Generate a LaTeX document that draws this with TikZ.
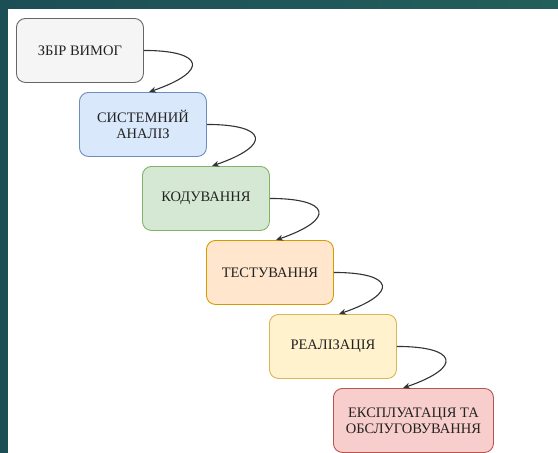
\documentclass[tikz,border=0pt]{standalone}
\usepackage{fontspec}
\setmainfont{Liberation Serif}
\usetikzlibrary{arrows.meta}

\definecolor{frameteal}{HTML}{1C4E56}
\definecolor{frametealR}{HTML}{235F5B}
\definecolor{txt}{HTML}{222222}

\begin{document}
\begin{tikzpicture}[x=1pt,y=-1pt,
  stage/.style={draw, line width=0.9pt, rounded corners=9pt, anchor=north west,
    minimum width=127pt, minimum height=64pt, inner sep=0pt,
    align=center, font=\fontsize{14.5}{16}\selectfont, text=txt},
  flow/.style={draw=black!80, line width=1.1pt, -{Stealth[length=7pt,width=6pt]}},
]
  % frame and page
  \useasboundingbox (0,0) rectangle (558,453);
  \shade[left color=frameteal, right color=frametealR] (0,0) rectangle (558,453);
  \fill[white] (8,9) rectangle (558,453);

  % stages
  \node[stage, fill={rgb,255:red,245;green,245;blue,245}, draw={rgb,255:red,102;green,102;blue,102}]
    (s1) at (16,18) {ЗБІР ВИМОГ};
  \node[stage, fill={rgb,255:red,218;green,232;blue,252}, draw={rgb,255:red,108;green,142;blue,191}]
    (s2) at (79,92) {СИСТЕМНИЙ\\АНАЛІЗ};
  \node[stage, fill={rgb,255:red,213;green,232;blue,212}, draw={rgb,255:red,130;green,179;blue,102}]
    (s3) at (142,166) {КОДУВАННЯ};
  \node[stage, fill={rgb,255:red,255;green,230;blue,204}, draw={rgb,255:red,215;green,155;blue,0}]
    (s4) at (206,240) {ТЕСТУВАННЯ};
  \node[stage, fill={rgb,255:red,255;green,242;blue,204}, draw={rgb,255:red,214;green,182;blue,86}]
    (s5) at (269,314) {РЕАЛІЗАЦІЯ};
  \node[stage, minimum width=160pt, fill={rgb,255:red,248;green,206;blue,204}, draw={rgb,255:red,184;green,84;blue,80}]
    (s6) at (333,388) {ЕКСПЛУАТАЦІЯ ТА\\ОБСЛУГОВУВАННЯ};

  % curved connectors
  \foreach \a/\b in {s1/s2, s2/s3, s3/s4, s4/s5, s5/s6}
    \draw[flow] (\a.east) .. controls +(60,0) and +(61,-21) .. ([xshift=70pt]\b.north west);
\end{tikzpicture}
\end{document}
